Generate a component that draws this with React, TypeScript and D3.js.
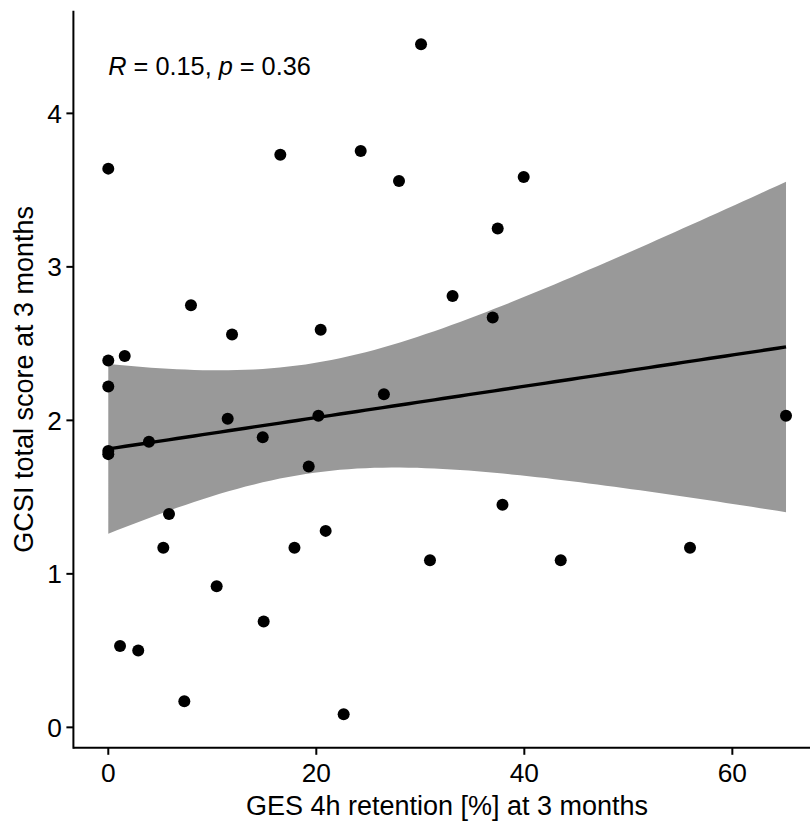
import React from "react";
import * as d3 from "d3";

// GES 4h retention [%] at 3 months (x) and GCSI total score at 3 months (y)
const gesRetention = [
  0, 0, 0, 1.58, 0, 0, 3.91, 7.95, 11.9, 11.48, 14.85, 20.42, 20.2, 19.27,
  5.84, 5.29, 17.9, 20.9, 10.42, 14.94, 1.13, 2.88, 7.31, 22.63, 16.54, 30.07,
  24.27, 27.95, 39.94, 37.44, 33.1, 36.96, 26.5, 37.9, 30.93, 43.5, 55.93, 65.16,
];
const gcsiScore = [
  3.64, 2.39, 2.22, 2.42, 1.8, 1.78, 1.86, 2.75, 2.56, 2.01, 1.89, 2.59, 2.03, 1.7,
  1.39, 1.17, 1.17, 1.28, 0.92, 0.69, 0.53, 0.5, 0.17, 0.085, 3.73, 4.45,
  3.755, 3.56, 3.585, 3.25, 2.81, 2.67, 2.17, 1.45, 1.088, 1.088, 1.17, 2.03,
];

const xTicks = [0, 20, 40, 60];
const yTicks = [0, 1, 2, 3, 4];
const corrR = "0.15";
const corrP = "0.36";
const xTitle = "GES 4h retention [%] at 3 months";
const yTitle = "GCSI total score at 3 months";

const W = 810;
const H = 823;
const FONT = "'Liberation Sans', Arial, Helvetica, sans-serif";

// Student t quantile (Cornish-Fisher expansion around the normal quantile)
function tQuantile975(df: number) {
  const z = 1.959964;
  const z3 = z * z * z;
  const z5 = z3 * z * z;
  return z + (z3 + z) / (4 * df) + (5 * z5 + 16 * z3 + 3 * z) / (96 * df * df);
}

export default function App() {
  const pts = gesRetention.map((x, i) => ({ x, y: gcsiScore[i] }));
  const [xMin, xMax] = d3.extent(gesRetention) as [number, number];
  const [yMin, yMax] = d3.extent(gcsiScore) as [number, number];
  const xPad = (xMax - xMin) * 0.05;
  const yPad = (yMax - yMin) * 0.05;

  const left = 74.4;
  const right = 819.9;
  const top = 10.8;
  const bottom = 747.8;

  const x = d3.scaleLinear().domain([xMin - xPad, xMax + xPad]).range([left, right]);
  const y = d3.scaleLinear().domain([yMin - yPad, yMax + yPad]).range([bottom, top]);

  // ordinary least squares fit with 95% confidence band
  const n = pts.length;
  const mx = d3.mean(gesRetention)!;
  const my = d3.mean(gcsiScore)!;
  const sxx = d3.sum(pts, (p) => (p.x - mx) ** 2);
  const sxy = d3.sum(pts, (p) => (p.x - mx) * (p.y - my));
  const slope = sxy / sxx;
  const intercept = my - slope * mx;
  const sse = d3.sum(pts, (p) => (p.y - (intercept + slope * p.x)) ** 2);
  const s = Math.sqrt(sse / (n - 2));
  const tq = tQuantile975(n - 2);

  const grid = d3.range(80).map((i) => xMin + ((xMax - xMin) * i) / 79);
  const fit = grid.map((gx) => {
    const yhat = intercept + slope * gx;
    const se = s * Math.sqrt(1 / n + (gx - mx) ** 2 / sxx);
    return { x: gx, y: yhat, lo: yhat - tq * se, hi: yhat + tq * se };
  });

  const band = d3
    .area<{ x: number; lo: number; hi: number }>()
    .x((d) => x(d.x))
    .y0((d) => y(d.lo))
    .y1((d) => y(d.hi));
  const line = d3
    .line<{ x: number; y: number }>()
    .x((d) => x(d.x))
    .y((d) => y(d.y));

  const axisColor = "#000";
  const tickLen = 7;

  return (
    <svg
      width={W}
      height={H}
      style={{ position: "absolute", left: 0, top: 0, background: "#fff" }}
      fontFamily={FONT}
    >
      <rect x={0} y={0} width={W} height={H} fill="#fff" />

      <path d={band(fit)!} fill="#999999" />
      <path d={line(fit)!} fill="none" stroke="#000" strokeWidth={3.4} />

      {pts.map((p, i) => (
        <circle key={i} cx={x(p.x)} cy={y(p.y)} r={6} fill="#000" />
      ))}

      <text x={x(0)} y={75} fontSize={25.3} fill="#000">
        <tspan fontStyle="italic">R</tspan>
        <tspan>{` = ${corrR}, `}</tspan>
        <tspan fontStyle="italic">p</tspan>
        <tspan>{` = ${corrP}`}</tspan>
      </text>

      {/* axes */}
      <line x1={left - 1} x2={W + 5} y1={bottom} y2={bottom} stroke={axisColor} strokeWidth={2} />
      <line x1={left - 1} x2={left - 1} y1={top} y2={bottom + 1} stroke={axisColor} strokeWidth={2} />

      {xTicks.map((t) => (
        <g key={`xt${t}`}>
          <line x1={x(t)} x2={x(t)} y1={bottom} y2={bottom + tickLen} stroke={axisColor} strokeWidth={2} />
          <text x={x(t)} y={782} fontSize={26.3} textAnchor="middle" fill="#000">
            {t}
          </text>
        </g>
      ))}
      {yTicks.map((t) => (
        <g key={`yt${t}`}>
          <line x1={left - 1 - tickLen} x2={left - 1} y1={y(t)} y2={y(t)} stroke={axisColor} strokeWidth={2} />
          <text x={62} y={y(t)} dy="0.36em" fontSize={26.3} textAnchor="end" fill="#000">
            {t}
          </text>
        </g>
      ))}

      <text x={447} y={815} fontSize={27} textAnchor="middle" fill="#000">
        {xTitle}
      </text>
      <text
        transform={`translate(33,${(top + bottom) / 2}) rotate(-90)`}
        fontSize={27}
        textAnchor="middle"
        fill="#000"
      >
        {yTitle}
      </text>
    </svg>
  );
}
